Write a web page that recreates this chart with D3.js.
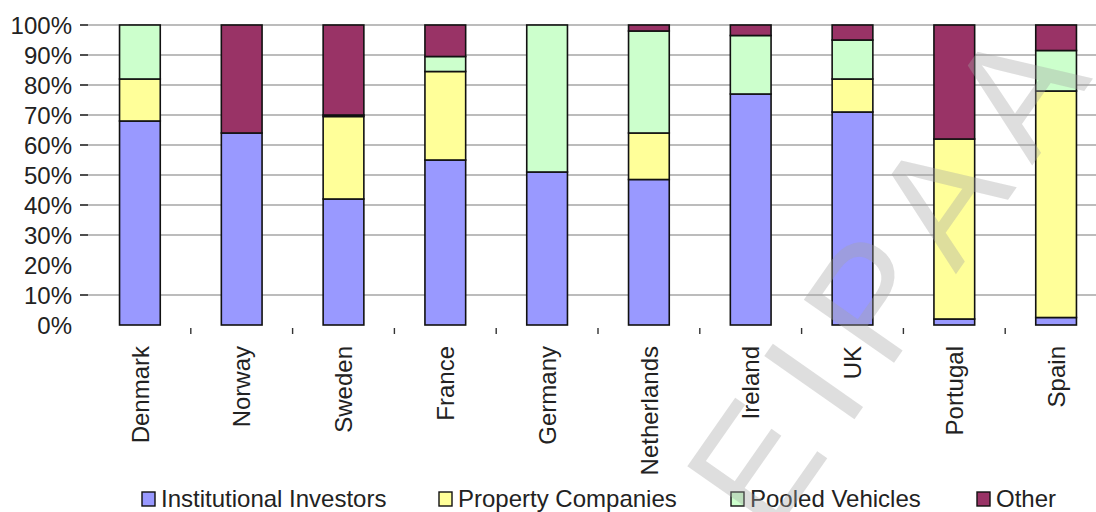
<!DOCTYPE html>
<html>
<head>
<meta charset="utf-8">
<script src="https://cdn.jsdelivr.net/npm/d3@7"></script>
<style>
  html, body { margin: 0; padding: 0; background: #fff; }
  svg { display: block; font-family: "Liberation Sans", Arial, sans-serif; }
</style>
</head>
<body>
<svg id="chart" width="1096" height="512"></svg>
<script>
// Ownership structure of the investment property market, by country (% of total)
const countries = ["Denmark", "Norway", "Sweden", "France", "Germany", "Netherlands", "Ireland", "UK", "Portugal", "Spain"];
const institutional = [68, 64, 42, 55, 51, 48.5, 77, 71, 2, 2.5];
const property      = [14, 0, 27.5, 29.5, 0, 15.5, 0, 11, 60, 75.5];
const pooled        = [18, 0, 0.5, 5, 49, 34, 19.5, 13, 0, 13.5];
const other         = [0, 36, 30, 10.5, 0, 2, 3.5, 5, 38, 8.5];

const seriesNames  = ["Institutional Investors", "Property Companies", "Pooled Vehicles", "Other"];
const seriesKeys   = ["institutional", "property", "pooled", "other"];
const seriesColors = ["#9999ff", "#ffff99", "#ccffcc", "#993366"];

const yTickValues = [0, 10, 20, 30, 40, 50, 60, 70, 80, 90, 100];
const gridValues  = [10, 30, 40, 50, 60, 70, 80, 90, 100];

const rows = countries.map((c, i) => ({
  country: c,
  institutional: institutional[i],
  property: property[i],
  pooled: pooled[i],
  other: other[i]
}));

const svg = d3.select("#chart");
const W = 1096;

const x = d3.scaleBand().domain(countries).range([89, 1107]).paddingInner(0.6).paddingOuter(0.3);
const y = d3.scaleLinear().domain([0, 100]).range([325, 25]);
const color = d3.scaleOrdinal().domain(seriesKeys).range(seriesColors);

// horizontal gridlines
svg.append("g").selectAll("line").data(gridValues).join("line")
  .attr("x1", 88).attr("x2", W)
  .attr("y1", d => y(d)).attr("y2", d => y(d))
  .attr("stroke", "#a6a6a6").attr("stroke-width", 1.6);

// y axis: tick marks and percentage labels
const yAxis = svg.append("g");
yAxis.selectAll("line").data(gridValues).join("line")
  .attr("x1", 80).attr("x2", 88)
  .attr("y1", d => y(d)).attr("y2", d => y(d))
  .attr("stroke", "#222").attr("stroke-width", 1.6);
yAxis.selectAll("text").data(yTickValues).join("text")
  .attr("x", 72).attr("y", d => y(d)).attr("dy", "0.36em")
  .attr("text-anchor", "end").attr("font-size", 24).attr("fill", "#222")
  .text(d => d + "%");

// stacked bars
const stacked = d3.stack().keys(seriesKeys)(rows);
svg.append("g").selectAll("g").data(stacked).join("g")
  .attr("fill", d => color(d.key))
  .selectAll("rect").data(d => d.filter(s => s[1] - s[0] > 0)).join("rect")
  .attr("x", d => x(d.data.country))
  .attr("width", x.bandwidth())
  .attr("y", d => y(d[1]))
  .attr("height", d => y(d[0]) - y(d[1]))
  .attr("stroke", "#111").attr("stroke-width", 1.6);

// category separators under the bars
const step = x.step();
const boundaries = countries.slice(1).map(c => x(c) - step * 0.3);
svg.append("g").selectAll("line").data(boundaries).join("line")
  .attr("x1", d => d).attr("x2", d => d)
  .attr("y1", 328).attr("y2", 334)
  .attr("stroke", "#333").attr("stroke-width", 1.4);

// rotated category labels
svg.append("g").selectAll("text").data(countries).join("text")
  .attr("transform", d => `translate(${x(d) + x.bandwidth() / 2},346) rotate(-90)`)
  .attr("dy", "0.36em")
  .attr("text-anchor", "end").attr("font-size", 24).attr("fill", "#222")
  .text(d => d);

// legend
const legendX = [142, 439, 731, 977];
const legend = svg.append("g").selectAll("g").data(seriesNames).join("g")
  .attr("transform", (d, i) => `translate(${legendX[i]},492)`);
legend.append("rect")
  .attr("width", 13).attr("height", 14)
  .attr("fill", (d, i) => seriesColors[i])
  .attr("stroke", "#111").attr("stroke-width", 1.4);
legend.append("text")
  .attr("x", 19).attr("y", 15)
  .attr("font-size", 24).attr("fill", "#222")
  .text(d => d);

// diagonal watermark
svg.append("text")
  .attr("transform", "translate(770,540) rotate(-55)")
  .attr("font-size", 160).attr("letter-spacing", 26)
  .attr("fill", "#a4a4a4").attr("fill-opacity", 0.36)
  .text("EIPAA");
</script>
</body>
</html>
